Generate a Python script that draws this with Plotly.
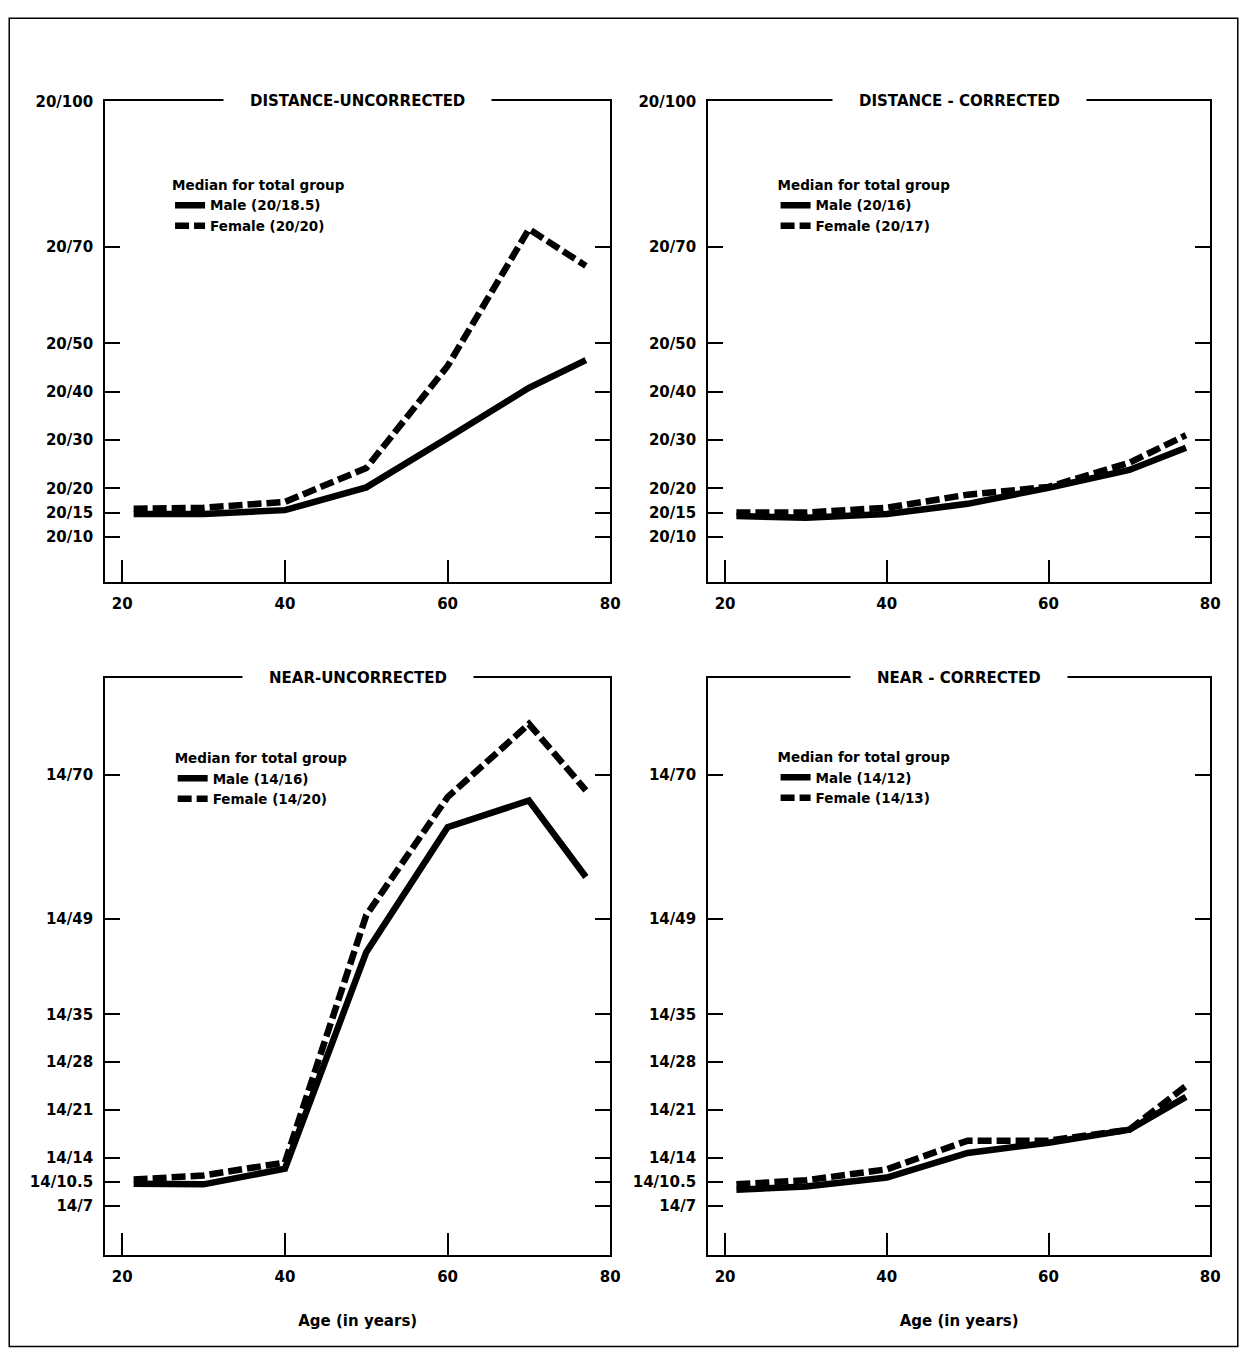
import plotly.graph_objects as go

# ---------------- data ----------------
ages = [21.4, 30, 40, 50, 60, 70, 77]

dist_unc_male = [14.7, 14.7, 15.5, 20.2, 30.4, 40.8, 46.5]
dist_unc_female = [15.8, 16.0, 17.2, 24.2, 45.3, 73.6, 66.0]
dist_cor_male = [14.3, 13.9, 14.7, 16.8, 20.1, 23.8, 28.4]
dist_cor_female = [15.0, 15.0, 16.0, 18.7, 20.3, 25.3, 31.0]
near_unc_male = [10.2, 10.1, 12.4, 44.1, 62.4, 66.3, 55.1]
near_unc_female = [10.8, 11.4, 13.3, 49.5, 66.8, 77.5, 67.8]
near_cor_male = [9.3, 9.8, 11.1, 14.7, 16.2, 18.1, 22.9]
near_cor_female = [10.1, 10.7, 12.3, 16.5, 16.5, 18.1, 24.5]

dist_tickvals = [10, 15, 20, 30, 40, 50, 70, 100]
dist_ticktext = ["20/10", "20/15", "20/20", "20/30", "20/40", "20/50", "20/70", "20/100"]
near_tickvals = [7, 10.5, 14, 21, 28, 35, 49, 70]
near_ticktext = ["14/7", "14/10.5", "14/14", "14/21", "14/28", "14/35", "14/49", "14/70"]
age_ticks = [20, 40, 60, 80]

panel_titles = ["DISTANCE-UNCORRECTED", "DISTANCE - CORRECTED", "NEAR-UNCORRECTED", "NEAR - CORRECTED"]
male_names = ["Male (20/18.5)", "Male (20/16)", "Male (14/16)", "Male (14/12)"]
female_names = ["Female (20/20)", "Female (20/17)", "Female (14/20)", "Female (14/13)"]
legend_title = "Median for total group"
x_title = "Age (in years)"

# ---------------- layout geometry ----------------
OFFX, OFFY = 8, 15  # where the page places the figure
W, H = 1241, 1340
FONT = "DejaVu Sans"


def px_x(t):
    p = (t + 1.3) / 0.9937
    return (p - OFFX) / W


def px_y(t):
    p = (t - 0.5) / 0.9948
    return 1 - (p - OFFY) / H


col_dom = [[px_x(104), px_x(610)], [px_x(708), px_x(1211)]]
row_dom = [[px_y(581), px_y(100)], [px_y(1255), px_y(677)]]

panels = [
    dict(male=dist_unc_male, female=dist_unc_female, kind="dist", r=0, c=0, leg=(169, 171)),
    dict(male=dist_cor_male, female=dist_cor_female, kind="dist", r=0, c=1, leg=(775.6, 171)),
    dict(male=near_unc_male, female=near_unc_female, kind="near", r=1, c=0, leg=(171.6, 745)),
    dict(male=near_cor_male, female=near_cor_female, kind="near", r=1, c=1, leg=(775.6, 744)),
]

fig = go.Figure()
layout = dict(
    width=W, height=H,
    margin=dict(l=0, r=0, t=0, b=0),
    paper_bgcolor="white", plot_bgcolor="white",
    font=dict(family=FONT, size=13, color="black", weight="bold"),
    showlegend=True,
    annotations=[], shapes=[],
)

for i, p in enumerate(panels, start=1):
    sfx = "" if i == 1 else str(i)
    leg = "legend" if i == 1 else f"legend{i}"
    fig.add_trace(go.Scatter(
        x=ages, y=p["male"], mode="lines", name=male_names[i - 1],
        line=dict(color="black", width=6.5), xaxis="x" + sfx, yaxis="y" + sfx,
        legend=leg))
    fig.add_trace(go.Scatter(
        x=ages, y=p["female"], mode="lines", name=female_names[i - 1],
        line=dict(color="black", width=6.5, dash="14px,5px"), xaxis="x" + sfx,
        yaxis="y" + sfx, legend=leg))

    xd = col_dom[p["c"]]
    yd = row_dom[p["r"]]
    if p["kind"] == "dist":
        yr, tv, tt = [0.7, 100], dist_tickvals, dist_ticktext
    else:
        yr, tv, tt = [-0.2, 84.3], near_tickvals, near_ticktext

    layout["xaxis" + sfx] = dict(
        domain=xd, anchor="y" + sfx, range=[17.9, 80], tickvals=age_ticks,
        ticks="inside", ticklen=22, tickwidth=2, tickcolor="black",
        showline=True, linewidth=2, linecolor="black", mirror=True,
        showgrid=False, zeroline=False, ticklabelstandoff=7,
        tickfont=dict(family=FONT, size=15, color="black", weight="bold"),
    )
    if p["r"] == 1:
        layout["xaxis" + sfx]["title"] = dict(
            text=x_title, standoff=31,
            font=dict(family=FONT, size=15, color="black", weight="bold"))
    layout["yaxis" + sfx] = dict(
        domain=yd, anchor="x" + sfx, range=yr, tickvals=tv, ticktext=tt,
        ticks="inside", ticklen=15, tickwidth=2, tickcolor="black",
        showline=True, linewidth=2, linecolor="black", mirror="ticks",
        showgrid=False, zeroline=False, ticklabelstandoff=7,
        tickfont=dict(family=FONT, size=15, color="black", weight="bold"),
    )
    layout["annotations"].append(dict(
        text=panel_titles[i - 1], xref="paper", yref="paper",
        x=(xd[0] + xd[1]) / 2, y=yd[1], xanchor="center", yanchor="middle",
        showarrow=False, bgcolor="white", borderpad=26,
        font=dict(family=FONT, size=15, color="black", weight="bold"),
    ))
    layout[leg] = dict(
        x=px_x(p["leg"][0]), y=px_y(p["leg"][1]), xanchor="left", yanchor="top",
        bgcolor="rgba(0,0,0,0)", borderwidth=0,
        title=dict(text=legend_title, font=dict(family=FONT, size=13.5, color="black", weight="bold")),
        font=dict(family=FONT, size=13.5, color="black", weight="bold"),
        tracegroupgap=0, itemwidth=30,
    )

# outer frame of the figure
layout["shapes"].append(dict(
    type="rect", xref="paper", yref="paper",
    x0=0.001, x1=0.999, y0=max(px_y(1347), 0.001), y1=0.999,
    line=dict(color="black", width=1.5), fillcolor="rgba(0,0,0,0)", layer="below"))

fig.update_layout(**layout)
fig.write_html("out.html")
